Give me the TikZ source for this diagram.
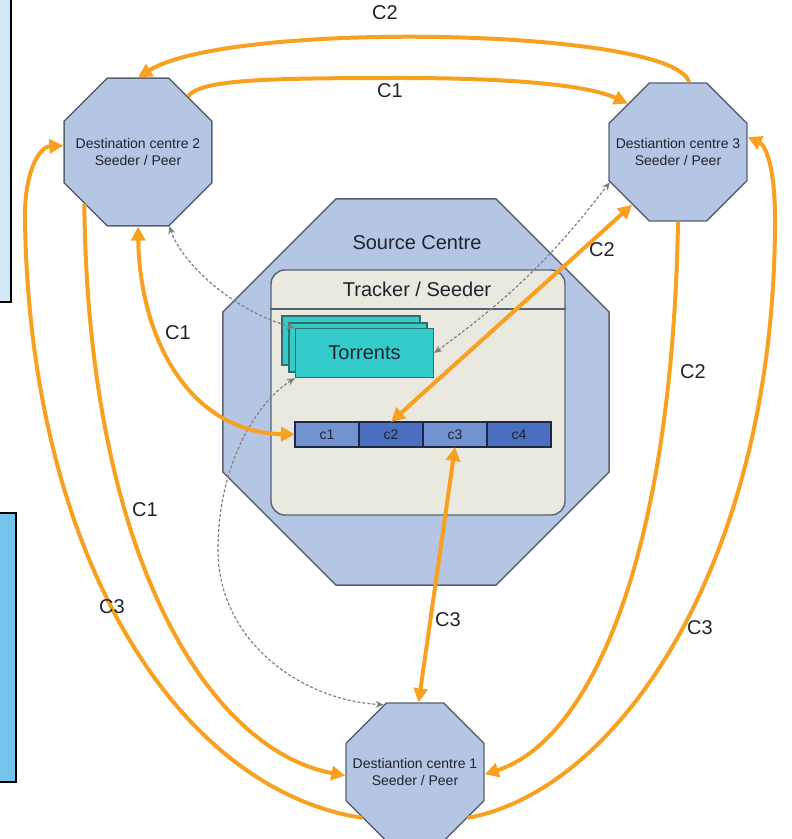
\documentclass[tikz,border=0pt]{standalone}
\usepackage{fontspec}
\setmainfont{Liberation Sans}
\usetikzlibrary{calc, positioning}
\usetikzlibrary{arrows.meta}
\usetikzlibrary{shapes.geometric}

\definecolor{octfill}{RGB}{181,198,228}
\definecolor{octline}{RGB}{88,98,112}
\definecolor{trackfill}{RGB}{233,233,223}
\definecolor{torfill}{RGB}{52,204,202}
\definecolor{torline}{RGB}{50,110,110}
\definecolor{cellA}{RGB}{115,147,208}
\definecolor{cellB}{RGB}{74,111,192}
\definecolor{cellline}{RGB}{30,40,70}
\definecolor{linkorange}{RGB}{248,160,32}
\definecolor{panelA}{RGB}{207,233,246}
\definecolor{panelB}{RGB}{116,195,235}
\definecolor{inktext}{RGB}{30,35,45}

\tikzset{
  centre/.style={regular polygon, regular polygon sides=8, draw=octline, fill=octfill,
    line width=0.7pt, inner sep=0pt},
  centretext/.style={align=center, inner sep=0pt, text=inktext,
    font=\fontsize{7}{8.6}\selectfont},
  torbox/.style={rectangle, draw=torline, fill=torfill, line width=0.6pt,
    minimum width=69pt, minimum height=24.5pt, text=inktext,
    font=\fontsize{10}{12}\selectfont},
  chunk/.style={rectangle, draw=cellline, line width=0.6pt, minimum width=32pt,
    minimum height=12.5pt, inner sep=0pt, outer sep=0pt, text=inktext,
    font=\fontsize{7}{8}\selectfont},
  lbl/.style={text=inktext, font=\fontsize{10}{12}\selectfont, inner sep=1pt},
  link/.style={draw=linkorange, line width=2pt, >={Triangle[length=7pt,width=7pt]}},
  dots/.style={draw=gray, line width=0.6pt, dash pattern=on 1.5pt off 1pt,
    >={Stealth[length=4pt,width=3.5pt]}},
}

\begin{document}
\begin{tikzpicture}[x=0.5pt, y=-0.5pt]
\useasboundingbox (0,0) rectangle (791,839);

% side panels cut by the page edge
\draw[fill=panelA, line width=0.8pt] (-10,-10) rectangle (11,302);
\draw[fill=panelB, line width=0.8pt] (-10,513) rectangle (16,782);

% source centre
\node[centre, minimum size=209pt] (src) at (416,392) {};
\node[lbl] (srclbl) at (417,243) {Source Centre};
\node[rectangle, rounded corners=7pt, draw=octline, fill=trackfill, line width=0.7pt,
  minimum width=147pt, minimum height=122.5pt] (tracker) at (418,392.5) {};
\draw[octline, line width=0.7pt] (tracker.west |- 0,309) -- (tracker.east |- 0,309);
\node[lbl] (trklbl) at (417,289) {Tracker / Seeder};

% torrents
\node[torbox] (tor3) at (351,340.5) {};
\node[torbox] (tor2) at (358,347.5) {};
\node[torbox] (tor) at (364.5,353) {Torrents};

% chunks
\node[chunk, fill=cellA] (c1) at (327,434.5) {c1};
\node[chunk, fill=cellB, right=0pt of c1] (c2) {c2};
\node[chunk, fill=cellA, right=0pt of c2] (c3) {c3};
\node[chunk, fill=cellB, right=0pt of c3] (c4) {c4};

% destinations
\node[centre, minimum size=80pt] (d2) at (138,152) {};
\node[centretext] (d2txt) at (d2) {Destination centre 2\\Seeder / Peer};
\node[centre, minimum size=74.7pt] (d3) at (678,152) {};
\node[centretext] (d3txt) at (d3) {Destiantion centre 3\\Seeder / Peer};
\node[centre, minimum size=74.7pt] (d1) at (415,772) {};
\node[centretext] (d1txt) at (d1) {Destiantion centre 1\\Seeder / Peer};

% tracker traffic
\draw[dots, <->] (tor.north west) .. controls (230,310) and (180,260) .. (d2.293);
\draw[dots, <->] (tor.east) to[bend right=8] (d3.204);
\draw[dots, <->] (tor.south west) .. controls (260,400) and (218,460) .. (218,550)
  .. controls (218,640) and (300,700) .. (d1.115);

% chunk transfers
\draw[link, ->] (d3.81) .. controls (675,28) and (230,20) .. (d2.north);
\draw[link, ->] (d2.48) .. controls (200,80) and (260,78) .. (400,78)
  .. controls (520,78) and (590,86) .. (d3.136);
\draw[link, <->] (d2.south) .. controls (140,340) and (190,432) .. (c1.west);
\draw[link, <->] (d3.229) -- (c2.north);
\draw[link, <->] (c3.south) -- (d1.87);
\draw[link, ->] (d2.224) .. controls (88,560) and (210,750) .. (d1.183);
\draw[link, ->] (d1.221) .. controls (180,790) and (30,560) .. (25,220)
  .. controls (24,175) and (38,147) .. (d2.175);
\draw[link, ->] (d3.-90) .. controls (672,560) and (590,740) .. (d1.-2);
\draw[link, ->] (d1.-41) .. controls (620,790) and (775,560) .. (775,220)
  .. controls (775,165) and (765,145) .. (d3.12);

\node[lbl] (l2top) at (385,13) {C2};
\node[lbl] (l1top) at (390,91) {C1};
\node[lbl] (l2mid) at (602,250) {C2};
\node[lbl] (l1mid) at (178,333) {C1};
\node[lbl] (l2rgt) at (693,372) {C2};
\node[lbl] (l1lft) at (145,510) {C1};
\node[lbl] (l3lft) at (112,607) {C3};
\node[lbl] (l3mid) at (448,620) {C3};
\node[lbl] (l3rgt) at (700,628) {C3};
\end{tikzpicture}
\end{document}
